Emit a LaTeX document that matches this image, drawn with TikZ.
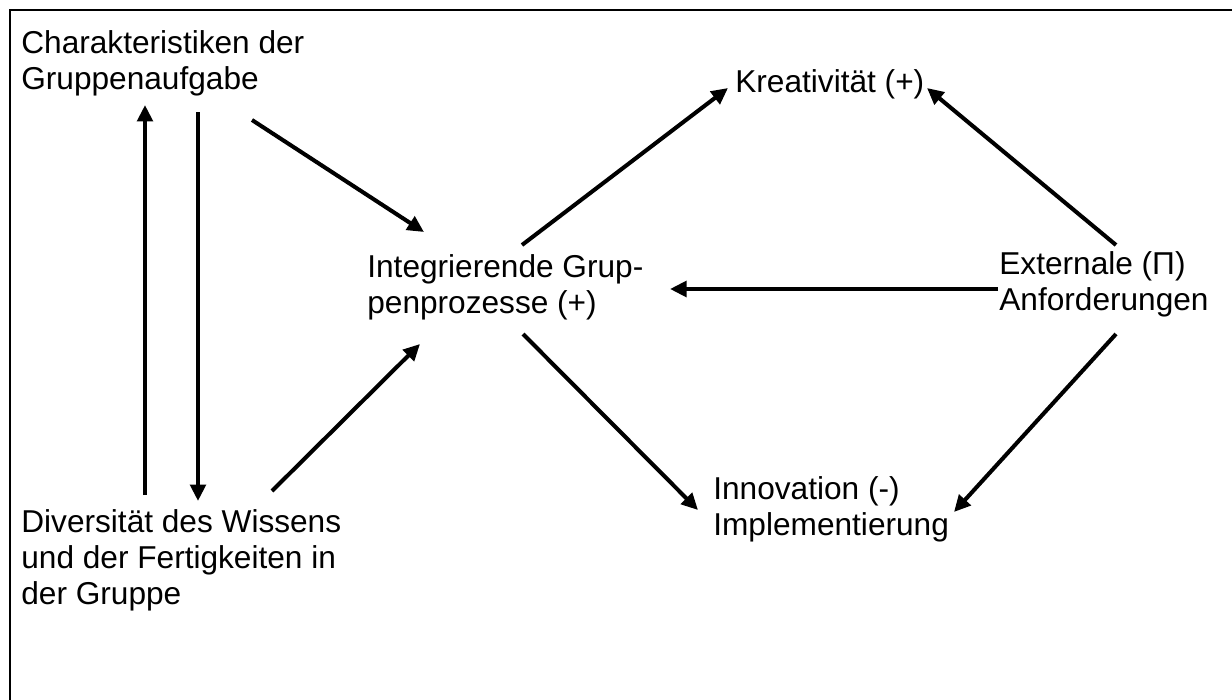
\documentclass[tikz,border=0pt]{standalone}
\usepackage{fontspec}
\setmainfont{Liberation Sans}
\usetikzlibrary{arrows.meta,calc}

\tikzset{
  lbl/.style={anchor=north west, inner sep=0pt, align=left,
    font=\fontsize{18}{20.5}\selectfont},
  arr/.style={line width=2.3pt, -{Triangle[length=0.33cm, width=0.31cm]}},
  frame/.style={line width=1.4pt}
}

\begin{document}
\begin{tikzpicture}[x=0.02cm, y=-0.02cm]
\useasboundingbox (0,0) rectangle (1232,700);
\draw [frame] (1232,10) -- (10,10) -- (10,700);

% left column
\node [lbl] (char) at (21,30.5) {Charakteristiken der\\Gruppenaufgabe};
\node [lbl] (div) at (21,509) {Diversität des Wissens\\und der Fertigkeiten in\\der Gruppe};

% middle and right
\node [lbl] (integ) at (367,254) {Integrierende Grup-\\penprozesse (+)};
\node [lbl] (kreat) at (735,69) {Kreativität (+)};
\node [lbl] (ext) at (999,251) {Externale (Π)\\Anforderungen};
\node [lbl] (innov) at (713,476) {Innovation (-)\\Implementierung};

% arrows
\draw [arr] ($(div.north west)+(124,-14)$) -- ($(char.north west)+(124,74.5)$);
\draw [arr] ($(char.north west)+(177,81.5)$) -- ($(div.north west)+(177,-8)$);
\draw [arr] ($(char.north west)+(231,89.5)$) -- ($(integ.north west)+(57,-22)$);
\draw [arr] ($(div.north west)+(251,-18)$) -- ($(integ.north west)+(53,90)$);

\draw [arr] ($(integ.north west)+(155,-9)$) -- ($(kreat.north west)+(-7,19)$);
\draw [arr] ($(ext.north west)+(117,-6)$) -- ($(kreat.north west)+(192,19)$);
\draw [arr] ($(ext.north west)+(-1,38)$) -- ($(integ.north west)+(303,35)$);
\draw [arr] ($(integ.north west)+(156,80)$) -- ($(innov.north west)+(-15,34)$);
\draw [arr] ($(ext.north west)+(117,83)$) -- ($(innov.north west)+(241,36)$);

\end{tikzpicture}
\end{document}
